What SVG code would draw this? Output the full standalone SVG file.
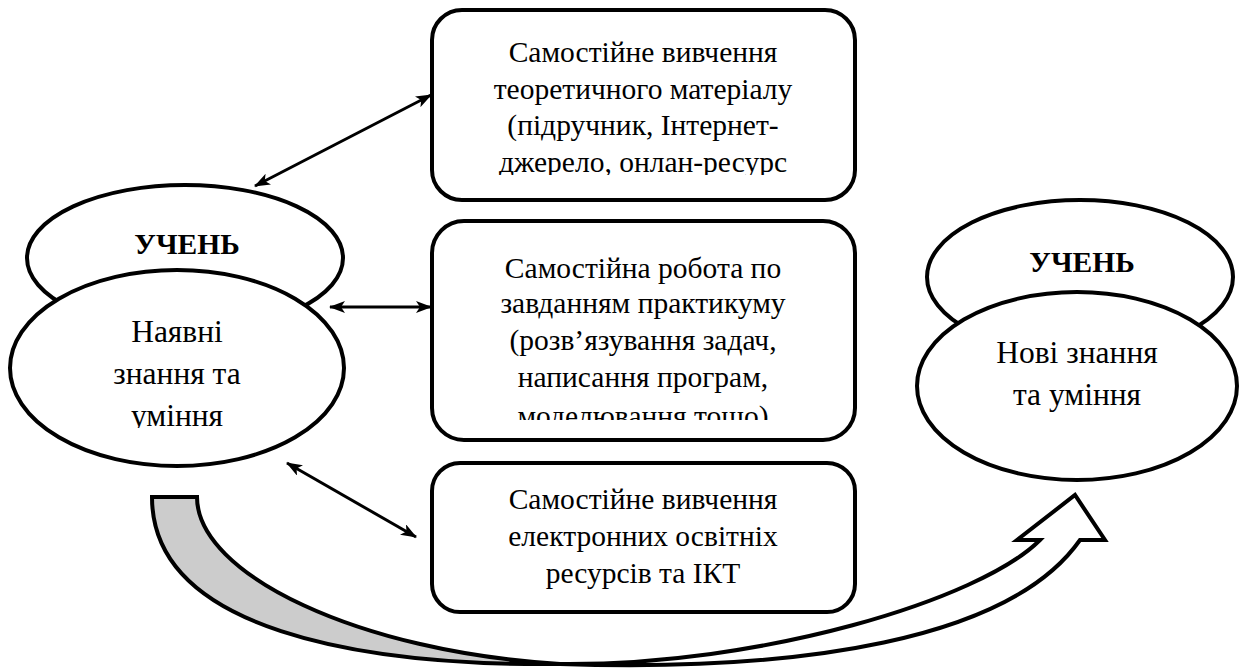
<svg xmlns="http://www.w3.org/2000/svg" width="1239" height="670" viewBox="0 0 1239 670">
  <style>
    .box { fill: #fff; stroke: #000; stroke-width: 4; }
    .ell { fill: #fff; stroke: #000; stroke-width: 4; }
    text { font-family: "Liberation Serif", "DejaVu Serif", "Times New Roman", serif; }
    .t { font-size: 29.5px; text-anchor: middle; fill: #000; }
    .te { font-size: 31.5px; }
    .tb { font-weight: bold; font-size: 29.5px; }
    .conn { stroke: #000; stroke-width: 3; fill: none; marker-start: url(#ah); marker-end: url(#ah); }
    .big { stroke: #000; stroke-width: 4; stroke-linejoin: miter; }
  </style>
  <defs>
    <marker id="ah" markerUnits="userSpaceOnUse" viewBox="0 0 16 12" refX="15" refY="6" markerWidth="16" markerHeight="12" orient="auto-start-reverse">
      <path d="M0,0 L16,6 L0,12 L4,6 Z" fill="#000"/>
    </marker>
    <clipPath id="clip1"><rect x="432" y="10" width="424" height="165"/></clipPath>
    <clipPath id="clip2"><rect x="432" y="220" width="424" height="200"/></clipPath>
    <clipPath id="clip3"><rect x="10" y="270" width="334" height="158"/></clipPath>
  </defs>

  <g id="big-arrow">
    <path class="big" fill="#cccccc" d="M152,497 L197,497 C197,575 360,652 560,664 C360,666 152,630 152,497 Z"/>
    <path class="big" fill="#ffffff" d="M560,664 C760,666 980,600 1040,540 L1017,540 L1075,495 L1105,540 L1080,540 C1010,640 800,672 560,664 Z"/>
  </g>

  <g id="student-left">
    <ellipse class="ell" cx="185" cy="258" rx="158" ry="73"/>
    <text class="t tb" x="187" y="254">УЧЕНЬ</text>
  </g>
  <g id="knowledge-left">
    <ellipse class="ell" cx="177" cy="368" rx="167" ry="98"/>
    <g clip-path="url(#clip3)">
      <text class="t te" x="177" y="342">Наявні</text>
      <text class="t te" x="177" y="384">знання та</text>
      <text class="t te" x="177" y="426">уміння</text>
    </g>
  </g>

  <g id="student-right">
    <ellipse class="ell" cx="1080" cy="277" rx="153" ry="77"/>
    <text class="t tb" x="1082" y="272">УЧЕНЬ</text>
  </g>
  <g id="knowledge-right">
    <ellipse class="ell" cx="1077" cy="386" rx="160" ry="94"/>
    <text class="t te" x="1077" y="363">Нові знання</text>
    <text class="t te" x="1077" y="405">та уміння</text>
  </g>

  <g id="box-theory">
    <rect class="box" x="432" y="10" width="423" height="190" rx="30" ry="30"/>
    <g clip-path="url(#clip1)">
      <text class="t" x="643" y="62">Самостійне вивчення</text>
      <text class="t" x="643" y="99">теоретичного матеріалу</text>
      <text class="t" x="643" y="135">(підручник, Інтернет-</text>
      <text class="t" x="643" y="172">джерело, онлан-ресурс</text>
    </g>
  </g>

  <g id="box-practice">
    <rect class="box" x="432" y="221" width="423" height="219" rx="32" ry="32"/>
    <g clip-path="url(#clip2)">
      <text class="t" x="643" y="278">Самостійна робота по</text>
      <text class="t" x="643" y="313">завданням практикуму</text>
      <text class="t" x="643" y="350">(розв’язування задач,</text>
      <text class="t" x="643" y="387">написання програм,</text>
      <text class="t" x="643" y="426">моделювання тощо)</text>
    </g>
  </g>

  <g id="box-eresources">
    <rect class="box" x="432" y="463" width="423" height="149" rx="28" ry="28"/>
    <text class="t" x="643" y="509">Самостійне вивчення</text>
    <text class="t" x="643" y="546">електронних освітніх</text>
    <text class="t" x="643" y="583">ресурсів та ІКТ</text>
  </g>

  <g id="connectors">
    <line class="conn" x1="255" y1="186" x2="431" y2="95"/>
    <line class="conn" x1="330" y1="307" x2="431" y2="307"/>
    <line class="conn" x1="287" y1="463" x2="416" y2="537"/>
  </g>
</svg>
